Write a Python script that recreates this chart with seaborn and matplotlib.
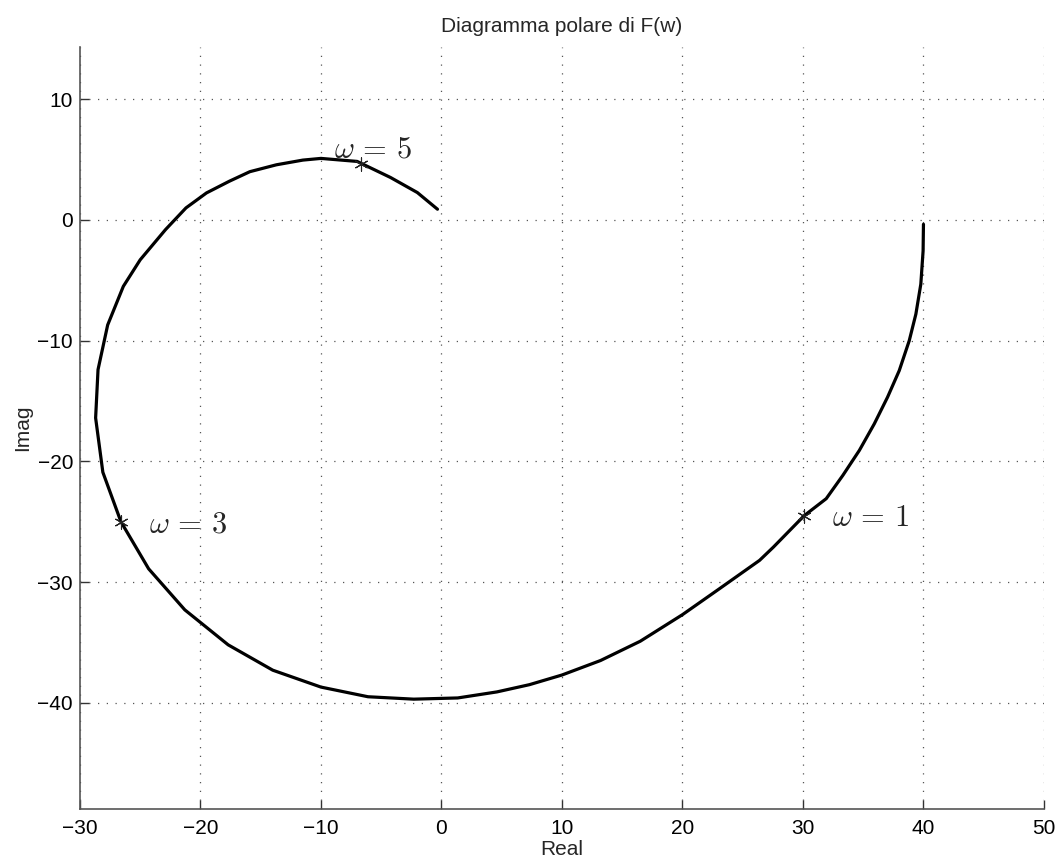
import numpy as np
import pandas as pd
import matplotlib.pyplot as plt
import seaborn as sns

# punti del diagramma polare (parte reale / immaginaria)
re_vals = [40.0, 39.97, 39.78, 39.37, 38.82, 37.99, 37.02, 35.92, 34.68, 33.31, 31.93, 30.1,
           27.55, 26.4, 23.0, 20.0, 16.5, 13.2, 10.0, 7.3, 4.6, 1.35, -2.3, -6.1,
           -10.0, -14.0, -17.7, -21.3, -24.3, -26.6, -28.1, -28.7, -28.5, -27.7,
           -26.4, -25.0, -22.9, -21.2, -19.5, -17.6, -15.9, -13.7, -11.5, -10.0,
           -7.0, -4.23, -2.0, -0.33]
im_vals = [-0.36, -2.56, -5.32, -7.8, -10.0, -12.48, -14.68, -16.89, -19.09, -21.16, -23.09, -24.5,
           -27.1, -28.2, -30.6, -32.7, -34.9, -36.5, -37.7, -38.5, -39.1, -39.6, -39.7, -39.5,
           -38.7, -37.3, -35.2, -32.3, -28.9, -25.0, -20.9, -16.4, -12.4, -8.7,
           -5.5, -3.3, -0.8, 1.0, 2.24, 3.21, 4.0, 4.57, 4.96, 5.1,
           4.85, 3.52, 2.27, 0.89]

# pulsazioni evidenziate
star_re = [30.1, -26.6, -6.7]
star_im = [-24.5, -25.0, 4.6]
star_labels = [r'$\omega\,=\,1$', r'$\omega\,=\,3$', r'$\omega\,=\,5$']

xticks = [-30, -20, -10, 0, 10, 20, 30, 40, 50]
yticks = [-40, -30, -20, -10, 0, 10]

df = pd.DataFrame({'re': re_vals, 'im': im_vals})
df_s = pd.DataFrame({'re': star_re, 'im': star_im})

sns.set_style("white")
plt.rcParams['font.family'] = ['Liberation Sans', 'DejaVu Sans']
plt.rcParams['mathtext.fontset'] = 'cm'

fig = plt.figure(figsize=(10.59, 8.61), dpi=100)
ax = fig.add_axes([0.0755, 0.0604, 0.9103, 0.8846])

sns.lineplot(data=df, x='re', y='im', sort=False, estimator=None, color='black',
             linewidth=2.3, ax=ax, zorder=3)
sns.scatterplot(data=df_s, x='re', y='im', marker=(6, 2, 0), s=90, color='#222222',
                linewidth=0.8, ax=ax, zorder=4)

# etichette omega
offsets = [(20, -2), (20, -2), (-19, 11)]
for x, y, lab, off in zip(star_re, star_im, star_labels, offsets):
    ax.annotate(lab, (x, y), xytext=off, textcoords='offset points',
                fontsize=22, va='center', ha='left')

ax.set_xlim(-30, 50)
ax.set_ylim(-48.8, 14.3)
ax.set_xticks(xticks)
ax.set_yticks(yticks)
ax.grid(True, color='#555555', linestyle=(0, (1, 6)), linewidth=0.9)

for s in ['top', 'right']:
    ax.spines[s].set_visible(False)
for s in ['left', 'bottom']:
    ax.spines[s].set_color('#555555')
    ax.spines[s].set_linewidth(1.2)

ax.tick_params(axis='both', direction='in', length=6.5, width=1.0, color='#333333',
               labelsize=15, labelcolor='black', bottom=True, left=True)
ax.tick_params(axis='x', pad=7)
ax.tick_params(axis='y', pad=5)

ax.set_title('Diagramma polare di F(w)', fontsize=15, pad=11)
ax.set_xlabel('Real', fontsize=15, labelpad=2)
ax.set_ylabel('Imag', fontsize=15, labelpad=4)

plt.savefig('out.png', dpi=100)
